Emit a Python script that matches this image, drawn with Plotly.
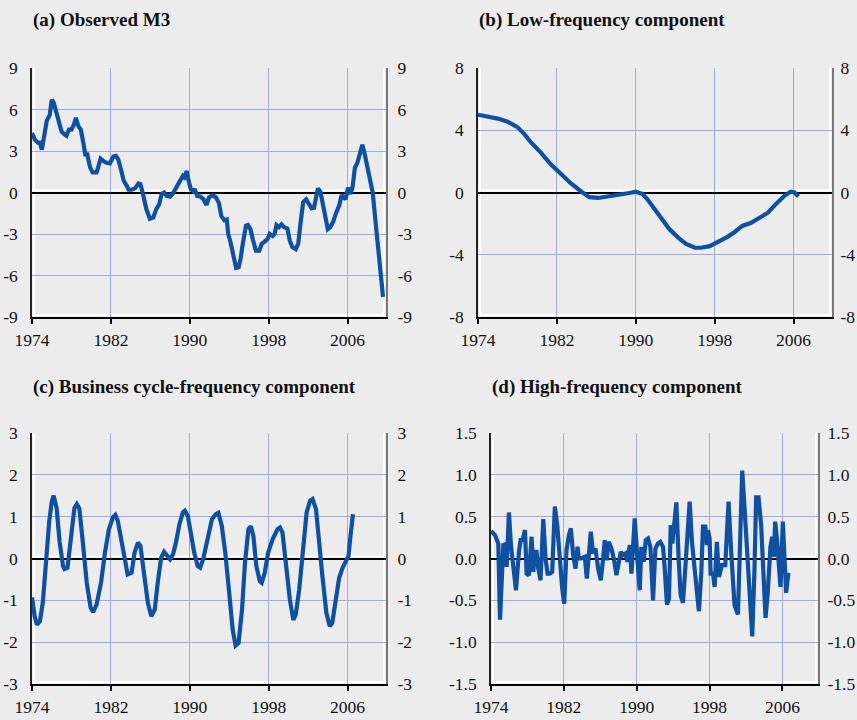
import plotly.graph_objects as go

# ---- data -------------------------------------------------------------
# (a) observed M3 growth deviation
years_a = [1974.0, 1974.3, 1974.6, 1974.8, 1975.0, 1975.3, 1975.5, 1975.8, 1976.0, 1976.2,
           1976.5, 1976.8, 1977.0, 1977.3, 1977.5, 1977.75, 1978.0, 1978.25, 1978.45, 1978.7,
           1978.95, 1979.2, 1979.4, 1979.6, 1979.9, 1980.15, 1980.55, 1980.7, 1980.95, 1981.2,
           1981.55, 1981.9, 1982.25, 1982.5, 1982.75, 1983.1, 1983.3, 1983.6, 1983.8, 1984.1,
           1984.45, 1984.8, 1985.0, 1985.3, 1985.6, 1985.95, 1986.3, 1986.6, 1986.9, 1987.15,
           1987.4, 1987.65, 1988.0, 1988.3, 1988.65, 1989.0, 1989.3, 1989.45, 1989.7, 1989.85,
           1990.1, 1990.35, 1990.5, 1990.75, 1991.1, 1991.4, 1991.7, 1991.95, 1992.3, 1992.65,
           1992.95, 1993.2, 1993.5, 1993.75, 1993.9, 1994.1, 1994.4, 1994.7, 1994.95, 1995.15,
           1995.4, 1995.7, 1995.9, 1996.15, 1996.4, 1996.7, 1997.05, 1997.3, 1997.6, 1997.9,
           1998.1, 1998.4, 1998.6, 1998.8, 1999.05, 1999.3, 1999.55, 1999.9, 2000.15, 2000.4,
           2000.75, 2001.0, 2001.2, 2001.5, 2001.8, 2002.0, 2002.35, 2002.6, 2002.85, 2003.0,
           2003.25, 2003.45, 2003.7, 2004.0, 2004.25, 2004.55, 2004.8, 2005.15, 2005.4, 2005.65,
           2005.8, 2006.05, 2006.3, 2006.5, 2006.75, 2007.0, 2007.25, 2007.5, 2007.75, 2008.1,
           2008.55, 2008.95, 2009.3, 2009.6]
m3_observed = [4.3, 3.8, 3.6, 3.6, 3.1, 4.3, 5.2, 5.6, 6.7, 6.5,
               5.6, 4.8, 4.4, 4.2, 4.1, 4.55, 4.55, 4.9, 5.4, 4.8,
               4.55, 3.6, 2.75, 2.75, 1.8, 1.45, 1.45, 1.8, 2.45, 2.3,
               2.15, 2.1, 2.6, 2.65, 2.4, 1.45, 0.85, 0.5, 0.2, 0.2,
               0.3, 0.65, 0.6, -0.25, -1.2, -1.9, -1.8, -1.2, -0.85, -0.1,
               0.0, -0.25, -0.3, -0.05, 0.35, 0.85, 1.2, 1.1, 1.55, 0.95,
               0.25, 0.1, 0.25, -0.25, -0.3, -0.5, -0.9, -0.35, -0.2, -0.35,
               -0.75, -1.7, -2.0, -1.95, -3.0, -3.5, -4.55, -5.45, -5.4, -4.8,
               -3.6, -2.4, -2.35, -2.65, -3.4, -4.2, -4.2, -3.7, -3.55, -3.35,
               -3.0, -3.15, -3.0, -2.35, -2.5, -2.3, -2.5, -2.6, -3.5, -3.95,
               -4.1, -3.7, -2.4, -0.7, -0.5, -0.7, -1.15, -1.1, -0.35, 0.3,
               0.05, -0.6, -1.45, -2.65, -2.5, -2.1, -1.55, -0.95, -0.2, -0.45,
               -0.5, 0.35, -0.1, 0.35, 1.8, 2.15, 2.85, 3.45, 2.75, 1.55,
               0.0, -2.9, -5.3, -7.55]

# (b) low-frequency component
years_b = [1974.0, 1975.0, 1976.0, 1977.0, 1978.0, 1978.7, 1979.4, 1980.4, 1981.4, 1982.4,
           1983.4, 1984.5, 1985.3, 1986.2, 1987.2, 1988.2, 1989.2, 1990.0, 1990.7, 1991.2,
           1991.9, 1992.6, 1993.4, 1994.3, 1995.1, 1996.0, 1996.6, 1997.5, 1998.3, 1999.3,
           2000.0, 2000.8, 2001.7, 2002.7, 2003.4, 2004.2, 2005.1, 2005.7, 2006.1, 2006.5]
low_freq = [5.0, 4.9, 4.75, 4.55, 4.2, 3.75, 3.2, 2.55, 1.8, 1.2,
            0.6, 0.05, -0.3, -0.35, -0.25, -0.2, -0.05, 0.05, -0.1, -0.45,
            -1.05, -1.7, -2.35, -2.9, -3.3, -3.55, -3.55, -3.45, -3.2, -2.85,
            -2.55, -2.15, -1.95, -1.6, -1.3, -0.75, -0.2, 0.05, 0.0, -0.25]

# (c) business cycle-frequency component
years_c = [1974.0, 1974.27, 1974.5, 1974.8, 1975.1, 1975.4, 1975.75, 1976.0, 1976.2, 1976.5,
           1976.8, 1977.15, 1977.3, 1977.6, 1977.95, 1978.3, 1978.55, 1978.8, 1979.15, 1979.55,
           1979.95, 1980.2, 1980.55, 1981.0, 1981.4, 1981.8, 1982.2, 1982.45, 1982.7, 1983.05,
           1983.4, 1983.7, 1984.1, 1984.4, 1984.75, 1985.0, 1985.35, 1985.75, 1986.1, 1986.45,
           1986.75, 1987.1, 1987.4, 1987.8, 1988.0, 1988.3, 1988.6, 1988.95, 1989.3, 1989.5,
           1989.8, 1990.1, 1990.45, 1990.8, 1991.05, 1991.35, 1991.8, 1992.25, 1992.65, 1992.9,
           1993.25, 1993.6, 1994.0, 1994.35, 1994.65, 1994.95, 1995.3, 1995.6, 1995.95, 1996.2,
           1996.45, 1996.75, 1997.1, 1997.3, 1997.6, 1997.95, 1998.4, 1998.9, 1999.15, 1999.4,
           1999.7, 2000.15, 2000.5, 2000.75, 2001.1, 2001.45, 2001.85, 2002.2, 2002.45, 2002.8,
           2003.1, 2003.45, 2003.85, 2004.2, 2004.45, 2004.8, 2005.15, 2005.5, 2005.8, 2006.1,
           2006.3, 2006.55]
business_cycle = [-0.93, -1.38, -1.58, -1.5, -1.05, -0.1, 0.9, 1.35, 1.5, 1.2,
                  0.4, -0.18, -0.25, -0.22, 0.45, 1.2, 1.3, 1.2, 0.4, -0.58,
                  -1.18, -1.28, -1.1, -0.58, 0.14, 0.7, 0.98, 1.04, 0.9, 0.46,
                  -0.1, -0.38, -0.34, 0.14, 0.38, 0.3, -0.34, -1.06, -1.38, -1.22,
                  -0.58, 0.02, 0.16, 0.06, -0.02, 0.1, 0.38, 0.82, 1.1, 1.14,
                  1.02, 0.62, 0.14, -0.18, -0.22, -0.02, 0.5, 0.94, 1.06, 1.09,
                  0.78, 0.14, -0.82, -1.7, -2.08, -2.02, -1.22, -0.1, 0.7, 0.77,
                  0.54, -0.18, -0.54, -0.58, -0.34, 0.14, 0.46, 0.7, 0.74, 0.62,
                  -0.02, -0.98, -1.47, -1.34, -0.74, 0.22, 1.1, 1.38, 1.42, 1.18,
                  0.54, -0.42, -1.3, -1.62, -1.54, -1.06, -0.46, -0.22, -0.1, 0.06,
                  0.54, 1.06]

# (d) high-frequency component
years_d = [1974.0, 1974.44, 1974.8, 1974.99, 1975.35, 1975.61, 1975.72, 1975.97, 1976.19, 1976.45,
           1976.74, 1977.07, 1977.25, 1977.47, 1977.73, 1977.91, 1978.16, 1978.46, 1978.64, 1978.82,
           1979.0, 1979.19, 1979.44, 1979.74, 1979.99, 1980.21, 1980.47, 1980.72, 1981.01, 1981.27,
           1981.56, 1981.82, 1982.04, 1982.29, 1982.55, 1982.77, 1983.02, 1983.28, 1983.5, 1983.64,
           1983.86, 1984.12, 1984.3, 1984.52, 1984.78, 1984.96, 1985.21, 1985.47, 1985.76, 1986.05,
           1986.31, 1986.49, 1986.68, 1986.93, 1987.22, 1987.52, 1987.77, 1988.03, 1988.25, 1988.5,
           1988.76, 1988.98, 1989.23, 1989.42, 1989.63, 1989.78, 1990.07, 1990.33, 1990.51, 1990.77,
           1990.99, 1991.24, 1991.5, 1991.79, 1992.05, 1992.34, 1992.59, 1992.89, 1993.07, 1993.32,
           1993.54, 1993.73, 1993.91, 1994.09, 1994.35, 1994.6, 1994.82, 1995.08, 1995.33, 1995.55,
           1995.81, 1996.06, 1996.36, 1996.61, 1996.83, 1997.09, 1997.27, 1997.53, 1997.71, 1997.82,
           1998.0, 1998.11, 1998.37, 1998.55, 1998.8, 1999.02, 1999.17, 1999.35, 1999.72, 2000.08,
           2000.37, 2000.74, 2001.11, 2001.4, 2001.58, 2001.84, 2002.2, 2002.49, 2002.68, 2002.93,
           2003.11, 2003.37, 2003.66, 2003.92, 2004.14, 2004.39, 2004.68, 2004.87, 2005.05, 2005.2,
           2005.42, 2005.78, 2006.04, 2006.4, 2006.65]
high_freq = [0.33, 0.28, 0.18, -0.73, 0.16, 0.17, -0.1, 0.55, 0.16, -0.12,
             -0.38, 0.08, 0.22, 0.22, 0.34, -0.18, -0.2, 0.26, -0.16, 0.08,
             0.08, -0.12, -0.26, 0.47, 0.0, -0.18, -0.18, -0.16, 0.62, 0.4,
             -0.08, -0.36, -0.54, 0.1, 0.28, 0.36, 0.04, -0.12, 0.14, 0.0,
             0.0, 0.02, 0.02, -0.24, 0.12, 0.32, 0.06, 0.12, -0.12, -0.26,
             0.0, 0.22, -0.02, 0.2, 0.12, -0.02, -0.2, -0.06, 0.08, 0.04,
             0.06, -0.04, 0.16, -0.18, 0.12, 0.48, 0.0, -0.38, 0.14, -0.04,
             0.22, 0.24, 0.14, -0.5, 0.12, 0.18, 0.2, 0.14, -0.12, -0.55,
             -0.48, 0.4, 0.18, 0.42, 0.67, 0.0, -0.44, -0.53, -0.12, 0.4,
             0.68, 0.2, -0.2, -0.4, -0.63, -0.16, 0.38, 0.38, 0.16, 0.34,
             0.24, -0.18, -0.18, -0.34, 0.2, -0.22, -0.16, -0.08, -0.08, 0.68,
             0.08, -0.56, -0.67, 0.4, 1.05, 0.6, -0.12, -0.67, -0.93, -0.12,
             0.73, 0.73, 0.4, -0.2, -0.71, -0.4, 0.14, 0.26, 0.02, 0.44,
             0.2, -0.34, 0.44, -0.41, -0.17]

panel_titles = ["(a) Observed M3", "(b) Low-frequency component",
                "(c) Business cycle-frequency component", "(d) High-frequency component"]
year_ticks = [1974, 1982, 1990, 1998, 2006]
value_ticks = [[-9, -6, -3, 0, 3, 6, 9],
               [-8, -4, 0, 4, 8],
               [-3, -2, -1, 0, 1, 2, 3],
               [-1.5, -1.0, -0.5, 0.0, 0.5, 1.0, 1.5]]
value_tick_text = [["-9", "-6", "-3", "0", "3", "6", "9"],
                   ["-8", "-4", "0", "4", "8"],
                   ["-3", "-2", "-1", "0", "1", "2", "3"],
                   ["-1.5", "-1.0", "-0.5", "0.0", "0.5", "1.0", "1.5"]]

# ---- styling ----------------------------------------------------------
BG = "#ECECEC"
GRID = "#9EAAE2"
LINE = "#1050A0"
FONT = "Liberation Serif, Times New Roman, serif"
W, H = 857, 720

# panel boxes in pixels: left, right, top, bottom
boxes = [(32, 386, 68, 317), (478, 832, 68, 317),
         (32, 386, 433, 684), (491, 818, 433, 684)]
title_pos = [(31, 20), (477, 20), (31, 387), (490, 387)]
right_standoff = [6, 3, 6, 4]
series = [(years_a, m3_observed), (years_b, low_freq),
          (years_c, business_cycle), (years_d, high_freq)]

fig = go.Figure()
layout = dict(
    width=W, height=H, margin=dict(l=0, r=0, t=0, b=0, autoexpand=False),
    paper_bgcolor=BG, plot_bgcolor=BG, showlegend=False,
    font=dict(family=FONT, size=17.5, color="#111111"),
)
annotations = []
shapes = []
tick_font = dict(family=FONT, size=17.5, color="#111111")

for i, ((x, y), (l, r, t, b)) in enumerate(zip(series, boxes)):
    n = i + 1
    xa = "x" if n == 1 else f"x{n}"
    ya = "y" if n == 1 else f"y{n}"
    ya_r = f"y{n + 4}"
    xdom = [l / W, r / W]
    ydom = [1 - b / H, 1 - t / H]
    yv = value_ticks[i]
    yrange = [yv[0], yv[-1]]

    fig.add_trace(go.Scatter(x=x, y=y, mode="lines", xaxis=xa, yaxis=ya,
                             line=dict(color=LINE, width=4.2),
                             hoverinfo="skip"))
    # same series on the right-hand axis, invisible, so that axis gets drawn
    fig.add_trace(go.Scatter(x=x, y=y, mode="lines", xaxis=xa, yaxis=ya_r,
                             line=dict(color="rgba(0,0,0,0)", width=0),
                             hoverinfo="skip"))

    xkey = "xaxis" if n == 1 else f"xaxis{n}"
    ykey = "yaxis" if n == 1 else f"yaxis{n}"
    layout[xkey] = dict(
        domain=xdom, anchor=ya, range=[1974, 2009.9], automargin=False,
        tickvals=year_ticks, ticks="outside", ticklen=5, tickwidth=2,
        tickcolor="#000000", ticklabelstandoff=1,
        showgrid=True, gridcolor=GRID, gridwidth=1,
        showline=True, linecolor="#000000", linewidth=1.5,
        zeroline=False, fixedrange=True, tickfont=tick_font,
    )
    layout[ykey] = dict(
        domain=ydom, anchor=xa, range=yrange, automargin=False,
        tickvals=yv, ticktext=value_tick_text[i], ticks="",
        ticklabelstandoff=9,
        showgrid=True, gridcolor=GRID, gridwidth=1,
        showline=True, linecolor="#222222", linewidth=1.5,
        zeroline=True, zerolinecolor="#000000", zerolinewidth=2,
        fixedrange=True, tickfont=tick_font,
    )
    layout[f"yaxis{n + 4}"] = dict(
        overlaying=ya, side="right", anchor=xa, range=yrange, automargin=False,
        tickvals=yv, ticktext=value_tick_text[i], ticks="",
        ticklabelstandoff=right_standoff[i], showgrid=False, zeroline=False,
        showline=True, linecolor="#777777", linewidth=2, fixedrange=True,
        tickfont=tick_font,
    )

    # white highlight lines beside the axis lines and above the zero line
    xd = f"{xa} domain"
    yd = f"{ya} domain"
    white = dict(color="#FFFFFF", width=2)
    shapes.append(dict(type="line", xref=xd, yref=ya, x0=0, x1=1,
                       ysizemode="pixel", yanchor=0, y0=2, y1=2,
                       line=white, layer="below"))
    shapes.append(dict(type="line", xref=xd, yref=yd, x0=0, x1=1,
                       ysizemode="pixel", yanchor=0, y0=2, y1=2,
                       line=white, layer="below"))
    shapes.append(dict(type="line", xref=xd, yref=yd, y0=0, y1=1,
                       xsizemode="pixel", xanchor=0, x0=2, x1=2,
                       line=white, layer="below"))
    shapes.append(dict(type="line", xref=xd, yref=yd, y0=0, y1=1,
                       xsizemode="pixel", xanchor=1, x0=-2, x1=-2,
                       line=white, layer="below"))

    tx, ty = title_pos[i]
    annotations.append(dict(
        text=f"<b>{panel_titles[i]}</b>", xref="paper", yref="paper",
        x=tx / W, y=1 - ty / H, xanchor="left", yanchor="middle",
        showarrow=False, font=dict(family=FONT, size=19, color="#111111"),
    ))

layout["annotations"] = annotations
layout["shapes"] = shapes
fig.update_layout(**layout)
fig.write_html("out.html")
